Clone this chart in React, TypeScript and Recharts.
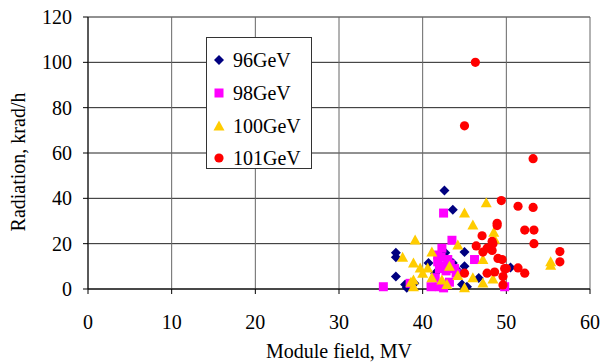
import React from 'react';
import { ScatterChart, Scatter, XAxis, YAxis, CartesianGrid, Legend } from 'recharts';

// module field (MV), radiation (krad/h) pairs per beam energy
const gev96: [number, number][] = [
  [42.6, 43.5], [43.6, 35], [36.8, 16], [36.8, 14], [36.8, 5.5], [37.9, 2], [38.1, 0.5],
  [45, 16.3], [43.6, 11.5], [42.7, 16], [40.7, 11.5], [45, 10], [44.7, 2], [46.7, 4.8],
  [45.3, 1], [50.5, 9.5], [39, 2.5], [41.5, 7], [44.2, 8],
];
const gev98: [number, number][] = [
  [35.3, 1], [38.5, 2.5], [41, 1], [42, 1], [42.5, 0.5], [42.5, 33.5], [43.5, 21.5],
  [46.2, 13], [49.8, 1], [42.3, 18], [41.8, 12], [42.2, 14], [42.6, 10], [43, 13],
  [42.8, 8], [43.3, 11], [42, 9], [44, 7], [41.5, 5], [43.2, 3], [41.8, 15], [43.8, 9],
];
const gev100: [number, number][] = [
  [39.1, 21.6], [37.6, 14], [38.9, 11.5], [39.7, 9.3], [40.6, 9.3], [41.1, 16.3], [40, 7],
  [38.9, 4], [38.9, 1], [41.1, 5], [42.3, 4], [42.9, 2], [44.2, 19.4], [45, 33.5],
  [46, 28.2], [47.6, 38], [48.5, 25], [48.6, 22], [44.2, 6], [46, 5], [47.2, 2.6],
  [48.4, 4.4], [45, 0.5], [55.3, 12], [55.3, 10.5], [47.2, 13], [43.2, 10], [38.6, 3],
];
const gev101: [number, number][] = [
  [46.3, 100], [45, 72], [53.2, 57.5], [49.4, 39], [51.4, 36.5], [53.2, 36], [48.9, 29],
  [48.9, 28], [52.2, 26], [53.3, 26], [53.3, 20], [47.1, 23.5], [48.3, 21], [48.4, 20],
  [46.4, 19], [47.7, 18], [47.2, 16.3], [48.3, 17], [56.4, 16.5], [56.4, 12], [49, 13.5],
  [49.5, 13], [49.8, 9], [51.4, 9.3], [52.2, 7], [47.7, 7], [48.6, 7.5], [49.6, 5.5],
  [49.6, 1.8], [45, 7], [50, 9],
];

const xTicks = [0, 10, 20, 30, 40, 50, 60];
const yTicks = [0, 20, 40, 60, 80, 100, 120];

const FONT = "'Liberation Serif', 'Times New Roman', 'DejaVu Serif', serif";

type Kind = 'diamond' | 'square' | 'triangle' | 'circle';

const series: { name: string; points: [number, number][]; color: string; kind: Kind }[] = [
  { name: '96GeV', points: gev96, color: '#000080', kind: 'diamond' },
  { name: '98GeV', points: gev98, color: '#FF00FF', kind: 'square' },
  { name: '100GeV', points: gev100, color: '#FFCC00', kind: 'triangle' },
  { name: '101GeV', points: gev101, color: '#FF0000', kind: 'circle' },
];

const marker = (kind: Kind, cx: number, cy: number, color: string) => {
  switch (kind) {
    case 'diamond':
      return <polygon points={`${cx},${cy - 5} ${cx + 5},${cy} ${cx},${cy + 5} ${cx - 5},${cy}`} fill={color} />;
    case 'square':
      return <rect x={cx - 4.5} y={cy - 4.5} width={9} height={9} fill={color} />;
    case 'triangle':
      return <polygon points={`${cx},${cy - 5.5} ${cx + 5.5},${cy + 4.5} ${cx - 5.5},${cy + 4.5}`} fill={color} />;
    default:
      return <circle cx={cx} cy={cy} r={4.6} fill={color} />;
  }
};

const renderLegend = () => (
  <div
    style={{
      width: 106,
      height: 132,
      boxSizing: 'border-box',
      border: '1px solid #333',
      background: '#fff',
      paddingTop: 6,
      fontFamily: FONT,
      fontSize: 20,
    }}
  >
    {series.map((s) => (
      <div key={s.name} style={{ display: 'flex', alignItems: 'center', height: 32.7 }}>
        <svg width={26} height={20} style={{ display: 'block' }}>
          {marker(s.kind, 12, 10, s.color)}
        </svg>
        <span style={{ lineHeight: '20px' }}>{s.name}</span>
      </div>
    ))}
  </div>
);

const YTitle = (props: any) => {
  const { viewBox } = props;
  const x = viewBox.x + 17.5;
  const y = viewBox.y + viewBox.height / 2 + 9;
  return (
    <text
      x={x}
      y={y}
      transform={`rotate(-90, ${x}, ${y})`}
      textAnchor="middle"
      dominantBaseline="central"
      style={{ fontFamily: FONT, fontSize: 20 }}
      fill="#000"
    >
      Radiation, krad/h
    </text>
  );
};

const tickStyle = { fill: '#000', fontSize: 20, style: { fontFamily: FONT } };

export default function App() {
  return (
    <div style={{ position: 'absolute', left: 0, top: 0, background: '#fff', fontFamily: FONT }}>
      <ScatterChart
        width={601}
        height={362}
        margin={{ top: 17, right: 11, left: 0, bottom: 0 }}
        style={{ fontFamily: FONT }}
      >
        <CartesianGrid vertical={false} stroke="#222" strokeWidth={1} />
        <CartesianGrid horizontal={false} stroke="#666" strokeWidth={1} />
        <XAxis
          type="number"
          dataKey="x"
          domain={[0, 60]}
          ticks={xTicks}
          interval={0}
          height={73}
          tickSize={5}
          tickMargin={21}
          stroke="#000"
          tick={tickStyle}
          label={{ value: 'Module field, MV', position: 'insideBottom', offset: 4, fill: '#000', fontSize: 20, style: { fontFamily: FONT } }}
        />
        <YAxis
          type="number"
          dataKey="y"
          domain={[0, 120]}
          ticks={yTicks}
          interval={0}
          width={88}
          tickSize={5}
          tickMargin={11}
          stroke="#000"
          tick={tickStyle}
          label={<YTitle />}
        />
        <Legend
          layout="vertical"
          align="center"
          verticalAlign="middle"
          wrapperStyle={{ left: 206, top: 37, width: 106, height: 132 }}
          content={renderLegend}
        />
        {series.map((s) => (
          <Scatter
            key={s.name}
            name={s.name}
            data={s.points.map(([x, y]) => ({ x, y }))}
            fill={s.color}
            isAnimationActive={false}
            shape={(p: any) => marker(s.kind, p.cx, p.cy, s.color)}
          />
        ))}
      </ScatterChart>
    </div>
  );
}
